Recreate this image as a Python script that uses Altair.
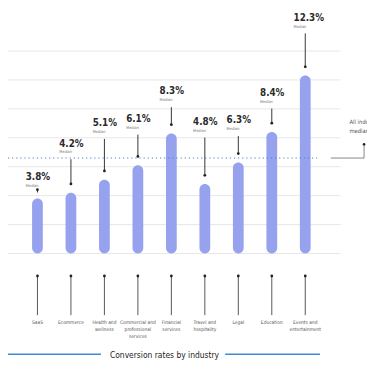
import altair as alt
import pandas as pd

categories = ["SaaS", "Ecommerce", "Health and wellness", "Commercial and professional services",
              "Financial services", "Travel and hospitality", "Legal", "Education",
              "Events and entertainment"]
cat_labels = ["SaaS", "Ecommerce", "Health and\nwellness", "Commercial and\nprofessional\nservices",
              "Financial\nservices", "Travel and\nhospitality", "Legal", "Education",
              "Events and\nentertainment"]
values = [3.8, 4.2, 5.1, 6.1, 8.3, 4.8, 6.3, 8.4, 12.3]
value_text = ["3.8%", "4.2%", "5.1%", "6.1%", "8.3%", "4.8%", "6.3%", "8.4%", "12.3%"]
label_at = [5.3, 7.6, 9.0, 9.3, 11.2, 9.1, 9.2, 11.1, 16.3]
grid_values = [0, 2, 4, 6, 8, 10, 12, 14]
all_median = 6.6
title_text = "Conversion rates by industry"
median_text = ["All industries", "median"]

FONT = "DejaVu Sans Condensed, DejaVu Sans, sans-serif"

df = pd.DataFrame({
    "category": categories,
    "cat_label": cat_labels,
    "value": values,
    "value_text": value_text,
    "label_at": label_at,
    "median_word": ["Median"] * len(categories),
})
grid_df = pd.DataFrame({"g": grid_values})

X = alt.X("category:N", sort=categories, scale=alt.Scale(type="point", range=[13, 321]), axis=None)
yscale = alt.Scale(domain=[0, 14], range=[247, 40], nice=False, zero=True)

base = alt.Chart(df)

grid = alt.Chart(grid_df).mark_rule(color="#e6e6e6", strokeWidth=1).encode(
    y=alt.Y("g:Q", scale=yscale, axis=None),
    x=alt.value(0), x2=alt.value(340),
)

bars = base.mark_bar(width=11, cornerRadius=5.5, color="#97a2ee").encode(
    x=X,
    y=alt.Y("value:Q", scale=yscale, axis=None),
    y2=alt.datum(0),
)

median_line = alt.Chart(pd.DataFrame({"m": [all_median]})).mark_rule(
    color="#4a7fc4", strokeWidth=1.2, strokeDash=[1.2, 3]
).encode(y=alt.Y("m:Q"), x=alt.value(0), x2=alt.value(316))

connector_h = alt.Chart(pd.DataFrame({"m": [all_median]})).mark_rule(
    color="#666666", strokeWidth=0.8
).encode(y=alt.Y("m:Q"), x=alt.value(330), x2=alt.value(364))

connector_v = alt.Chart(pd.DataFrame({"m": [all_median]})).mark_rule(
    color="#666666", strokeWidth=0.8, y2Offset=-14
).encode(y=alt.Y("m:Q"), y2=alt.Y2("m:Q"), x=alt.value(364))

connector_dot = alt.Chart(pd.DataFrame({"m": [all_median]})).mark_point(
    filled=True, size=7, color="#222222", opacity=1, yOffset=-14
).encode(y=alt.Y("m:Q"), x=alt.value(364))

median_label = alt.Chart(pd.DataFrame({"m": [all_median], "t": ["\n".join(median_text)]})).mark_text(
    align="left", baseline="middle", fontSize=6, lineHeight=9.5, color="#555555", font=FONT,
    lineBreak="\n", yOffset=-37
).encode(y=alt.Y("m:Q"), x=alt.value(349), text="t:N")

leaders = base.mark_rule(color="#333333", strokeWidth=1, yOffset=16, y2Offset=-9).encode(
    x=X, y=alt.Y("label_at:Q"), y2=alt.Y2("value:Q"),
)
leader_dots = base.mark_point(filled=True, size=8, color="#222222", opacity=1, yOffset=-9).encode(
    x=X, y=alt.Y("value:Q"),
)

value_labels = base.mark_text(
    align="left", baseline="middle", fontSize=10, fontWeight="bold", color="#2a2a2a",
    font=FONT, xOffset=-12
).encode(x=X, y=alt.Y("label_at:Q"), text="value_text:N")

median_words = base.mark_text(
    align="left", baseline="middle", fontSize=4, color="#777777", font=FONT,
    xOffset=-12, yOffset=9
).encode(x=X, y=alt.Y("label_at:Q"), text="median_word:N")

axis_rules = base.mark_rule(color="#555555", strokeWidth=1).encode(
    x=X, y=alt.value(270), y2=alt.value(310)
)
axis_dots = base.mark_point(filled=True, size=8, color="#222222", opacity=1).encode(
    x=X, y=alt.value(270)
)
cat_text = base.mark_text(
    align="center", baseline="top", fontSize=5, lineHeight=7, color="#555555",
    font=FONT, lineBreak="\n"
).encode(x=X, y=alt.value(315), text="cat_label:N")

title_lines = alt.Chart(pd.DataFrame({"a": [0, 222], "b": [95, 319]})).mark_rule(
    color="#3d8bd0", strokeWidth=1.5
).encode(x=alt.X("a:Q", scale=alt.Scale(domain=[0, 367], range=[0, 367]), axis=None),
         x2="b:Q", y=alt.value(350))

title = alt.Chart(pd.DataFrame({"t": [title_text]})).mark_text(
    align="center", baseline="middle", fontSize=8.6, fontWeight=500, color="#222222", font=FONT
).encode(x=alt.value(160), y=alt.value(351), text="t:N")

chart = alt.layer(
    grid, bars, median_line, connector_h, connector_v, connector_dot, median_label,
    leaders, leader_dots, value_labels, median_words,
    axis_rules, axis_dots, cat_text, title_lines, title
).resolve_scale(x="independent").properties(
    width=367, height=356, autosize=alt.AutoSizeParams(type="none"), padding=0,
    background="white"
).configure_view(strokeWidth=0)

chart.save("out.html", embed_options={"renderer": "svg", "actions": False})
